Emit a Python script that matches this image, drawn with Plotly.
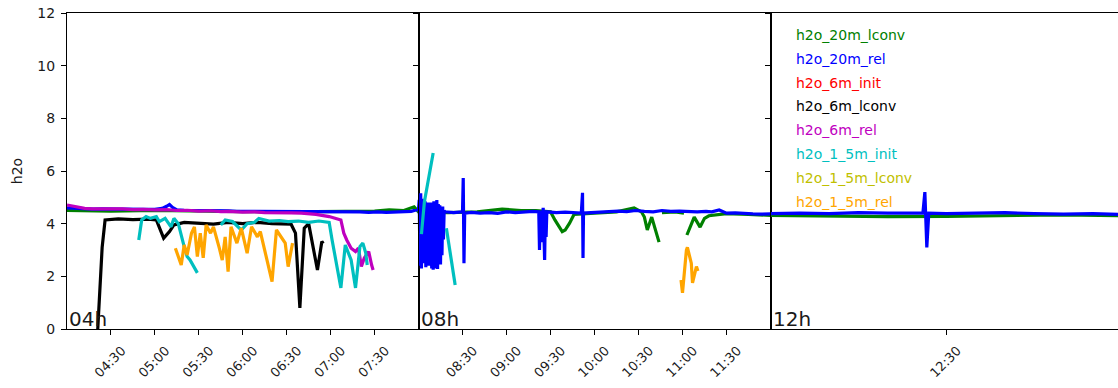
import pandas as pd
import plotly.graph_objects as go

DAY = "2020-01-01 "

# ---------------- data ----------------
g20_t = ["04:00", "04:30", "05:00", "05:30", "06:00", "06:30", "07:00", "07:30", "07:40", "07:50", "07:57",
         "08:00", "08:20", "08:40", "08:57", "09:10", "09:20", "09:30", "09:33", "09:38", "09:40", "09:43",
         "09:46", "10:00", "10:15", "10:27", "10:32", "10:34", "10:36", "10:39", "10:44", None,
         "10:46", "10:55", "11:01", None, "11:03", "11:08", "11:12", "11:15", "11:18", "11:30", "11:45",
         "12:00", "12:10", "12:20", "12:30", "12:40", "12:50", "13:00"]
g20_v = [4.5, 4.48, 4.5, 4.47, 4.46, 4.45, 4.45, 4.48, 4.52, 4.5, 4.64,
         4.45, 4.42, 4.45, 4.55, 4.5, 4.5, 4.45, 4.14, 3.7, 3.76, 4.02,
         4.35, 4.4, 4.45, 4.6, 4.45, 4.25, 3.76, 4.25, 3.3, None,
         4.42, 4.45, 4.4, None, 3.57, 4.25, 3.87, 4.2, 4.3, 4.38, 4.35,
         4.3, 4.28, 4.27, 4.28, 4.3, 4.33, 4.3]

b20_t = ["04:00", "04:06", "04:12", "04:18", "04:24", "04:30", "04:36", "04:42", "04:48", "04:54", "05:00",
         "05:05", "05:08", "05:10", "05:12", "05:15", "05:20", "05:26", "05:32", "05:38", "05:44", "05:50",
         "05:56", "06:02", "06:08", "06:14", "06:20", "06:26", "06:32", "06:38", "06:44", "06:50", "06:56",
         "07:02", "07:08", "07:14", "07:20", "07:26", "07:32", "07:38", "07:44", "07:50", "07:55",
         "08:00:00", "08:00:30", "08:01:00", "08:01:30", "08:02:00", "08:02:30", "08:03:00", "08:03:30",
         "08:04:00", "08:04:30", "08:05:00", "08:05:30", "08:06:00", "08:06:30", "08:07:00", "08:07:30",
         "08:08:00", "08:08:30", "08:09:00", "08:09:30", "08:10:00", "08:10:30", "08:11:00", "08:11:30",
         "08:12:00", "08:12:30", "08:13:00", "08:13:30", "08:14:00", "08:14:30", "08:15:00", "08:15:30",
         "08:16:00", "08:16:30", "08:17:00", "08:17:30", "08:18:00",
         "08:24", "08:30:00", "08:30:30", "08:31:00", "08:31:30", "08:36", "08:42", "08:48", "08:54",
         "09:00", "09:06", "09:12", "09:18",
         "09:22:00", "09:22:30", "09:23:00", "09:24:00", "09:25:00", "09:26:00", "09:26:30", "09:27:00",
         "09:27:30", "09:34", "09:40", "09:46", "09:51:00", "09:51:50", "09:52:10", "09:52:30", "09:58",
         "10:04", "10:10", "10:16", "10:22", "10:28", "10:34", "10:40", "10:46", "10:52", "10:58", "11:04",
         "11:10", "11:16", "11:20", "11:25", "11:30", "11:36", "11:42", "11:48", "11:54",
         "12:00", "12:05", "12:10", "12:15", "12:20", "12:25", "12:26:00", "12:26:20", "12:26:40",
         "12:27:00", "12:30", "12:35", "12:40", "12:45", "12:50", "12:55", "13:00"]
b20_v = [4.6, 4.58, 4.56, 4.55, 4.56, 4.55, 4.56, 4.55, 4.54, 4.54, 4.54,
         4.58, 4.66, 4.73, 4.62, 4.52, 4.51, 4.51, 4.5, 4.5, 4.48, 4.49,
         4.47, 4.47, 4.47, 4.45, 4.45, 4.45, 4.44, 4.44, 4.45, 4.45, 4.45,
         4.44, 4.46, 4.44, 4.45, 4.43, 4.45, 4.43, 4.45, 4.44, 4.47,
         4.55, 4.9, 2.4, 5.15, 2.3, 4.95, 2.5, 4.8,
         2.7, 4.85, 2.35, 4.7, 2.6, 4.8, 2.4, 4.75,
         3.0, 4.8, 2.3, 4.7, 2.25, 4.85, 2.5, 4.7,
         2.3, 4.9, 2.28, 4.75, 2.6, 4.7, 2.45, 4.6,
         2.8, 4.65, 3.4, 4.5, 4.45,
         4.42, 4.45, 5.73, 2.5, 4.4, 4.43, 4.4, 4.42, 4.39,
         4.45, 4.42, 4.44, 4.47,
         4.45, 3.0, 4.5, 3.3, 4.6, 2.62, 4.5, 3.5,
         4.45, 4.42, 4.44, 4.41, 4.4, 5.17, 2.7, 4.4, 4.42,
         4.44, 4.45, 4.48, 4.46, 4.5, 4.47, 4.45, 4.5, 4.47, 4.48, 4.46,
         4.45, 4.47, 4.45, 4.52, 4.4, 4.41, 4.38, 4.37, 4.36,
         4.38, 4.4, 4.38, 4.42, 4.4, 4.4, 4.4, 5.2, 3.1,
         4.4, 4.38, 4.4, 4.42, 4.38, 4.36, 4.38, 4.35]

r6_t = []
r6_v = []

k6_t = ["04:21", "04:24", "04:26", "04:35", "04:45", "04:55", "05:01", "05:03", "05:06", "05:10", "05:13",
        "05:20", "05:30", "05:40", "05:50", "06:00", "06:10", "06:20", "06:33", "06:36", "06:39", "06:42",
        "06:45", "06:48", "06:51", "06:54", "06:55"]
k6_v = [0.0, 3.1, 4.14, 4.18, 4.15, 4.17, 4.14, 3.88, 3.45, 3.7, 3.95,
        4.05, 4.02, 3.98, 4.05, 4.0, 4.05, 4.0, 3.98, 3.64, 0.8, 3.83,
        4.0, 3.07, 2.24, 3.32, 3.25]

m6_t = ["04:00", "04:04", "04:08", "04:12", "04:17", "04:24", "04:30", "04:38", "04:45", "04:52", "05:00",
        "05:08", "05:15", "05:22", "05:30", "05:38", "05:45", "05:50", "06:00", "06:08", "06:15", "06:25",
        "06:33", "06:40", "06:50", "06:59", "07:07", "07:09", "07:11", "07:14", "07:17", "07:19", "07:21",
        "07:23", "07:26", "07:28", "07:29"]
m6_v = [4.71, 4.66, 4.62, 4.58, 4.56, 4.57, 4.55, 4.56, 4.53, 4.54, 4.52,
        4.53, 4.5, 4.51, 4.48, 4.49, 4.46, 4.47, 4.44, 4.45, 4.42, 4.43,
        4.41, 4.4, 4.35, 4.27, 4.14, 3.64, 3.38, 3.07, 2.94, 3.07, 2.37,
        2.7, 2.94, 2.43, 2.24]

c15_t = ["04:49", "04:51", "04:54", "04:57", "05:01", "05:03", "05:07", "05:11", "05:13", "05:16", "05:20",
         "05:22", "05:24", "05:28", "05:29", None,
         "05:45", "05:48", "05:53", "05:59", "06:03", "06:08", "06:11",
         "06:18", "06:25", "06:31", "06:38", "06:45", "06:52", "06:59", "07:01", "07:03", "07:07", "07:10",
         "07:14", "07:17", "07:20", "07:22", "07:24", "07:25", None,
         "08:02", "08:04", "08:10", None, "08:19", "08:25"]
c15_v = [3.38, 4.14, 4.27, 4.2, 4.27, 4.08, 4.2, 3.88, 4.2, 4.0, 3.13,
         2.75, 2.62, 2.18, 2.13, None,
         3.95, 4.14, 4.08, 3.76, 4.0, 4.05, 4.2,
         4.1, 4.12, 4.08, 4.1, 4.05, 4.1, 4.05, 3.38, 2.75, 1.56, 3.19,
         2.62, 1.56, 3.13, 3.26, 2.88, 2.43, None,
         3.6, 4.82, 6.68, None, 3.83, 1.67]

y15_t = []
y15_v = []

o15_t = ["05:14", "05:18", "05:20", "05:22", "05:25", "05:27", "05:29", "05:31", "05:33", "05:35", "05:38",
         "05:40", "05:44", "05:46", "05:48", "05:50", "05:52", "05:56", "05:59", "06:03", "06:06", "06:10",
         "06:12", "06:16", "06:20", "06:23", "06:26", "06:29", "06:31", "06:34", None,
         "10:59:00", "11:00:00", "11:02:40", "11:03:20", "11:06:00", "11:06:50", "11:09:30", "11:10:30"]
o15_v = [3.07, 2.43, 3.19, 2.81, 3.64, 3.88, 2.75, 3.64, 2.7, 3.95, 3.64,
         3.88, 3.07, 2.62, 3.5, 2.18, 3.88, 3.26, 3.83, 2.88, 3.88, 3.5,
         3.7, 2.75, 1.8, 3.76, 3.5, 3.26, 2.37, 3.26, None,
         1.86, 1.37, 3.0, 3.1, 2.5, 1.75, 2.37, 2.2]

series = [
    ("h2o_20m_lconv", g20_t, g20_v, "#008000"),
    ("h2o_20m_rel", b20_t, b20_v, "#0000ff"),
    ("h2o_6m_init", r6_t, r6_v, "#ff0000"),
    ("h2o_6m_lconv", k6_t, k6_v, "#000000"),
    ("h2o_6m_rel", m6_t, m6_v, "#bf00bf"),
    ("h2o_1_5m_init", c15_t, c15_v, "#00bfbf"),
    ("h2o_1_5m_lconv", y15_t, y15_v, "#bfbf00"),
    ("h2o_1_5m_rel", o15_t, o15_v, "#ffa500"),
]

panel_ranges = [("04:00", "08:00"), ("08:00", "12:00"), ("12:00", "12:59:17")]
panel_labels = ["04h", "08h", "12h"]
panel_ticks = [["04:30", "05:00", "05:30", "06:00", "06:30", "07:00", "07:30"],
               ["08:30", "09:00", "09:30", "10:00", "10:30", "11:00", "11:30"],
               ["12:30"]]
y_ticks = [0, 2, 4, 6, 8, 10, 12]


def to_dt(lst):
    return [None if s is None else pd.Timestamp(DAY + s) for s in lst]


# ---------------- figure ----------------
W, H = 1118, 388
ML, MR, MT, MB = 67, 0, 13, 59
PW = W - ML - MR
b1 = (418.5 - ML) / PW
b2 = (770.5 - ML) / PW
domains = [[0, b1], [b1, b2], [b2, 1]]

fig = go.Figure()
axis_ids = ["", "2", "3"]
for i, aid in enumerate(axis_ids):
    for name, t, v, col in series:
        fig.add_trace(go.Scatter(
            x=to_dt(t), y=v, mode="lines", name=name, showlegend=False,
            line=dict(color=col, width=3.2), connectgaps=False,
            xaxis="x" + aid, yaxis="y" + aid, hoverinfo="skip"))

font = dict(family="DejaVu Sans", size=14, color="#1a1a1a")
layout = dict(
    width=W, height=H, margin=dict(l=ML, r=MR, t=MT, b=MB),
    paper_bgcolor="white", plot_bgcolor="white", font=font, showlegend=False,
)
for i, aid in enumerate(axis_ids):
    r0, r1 = panel_ranges[i]
    layout["xaxis" + aid] = dict(
        domain=domains[i], anchor="y" + aid,
        range=[DAY + r0, DAY + r1], type="date",
        tickmode="array", tickvals=[DAY + s for s in panel_ticks[i]], ticktext=panel_ticks[i],
        tickangle=-45, ticks="outside", ticklen=5, tickcolor="black",
        ticklabelshift=11, ticklabelstandoff=3,
        showline=True, linecolor="black", linewidth=1, mirror=True,
        showgrid=False, zeroline=False, tickfont=dict(size=13),
    )
    ya = dict(
        domain=[0, 1], anchor="x" + aid, range=[0, 12],
        tickmode="array", tickvals=y_ticks, ticks="outside", ticklen=5, tickcolor="black",
        showline=True, linecolor="black", linewidth=1, mirror=(i < 2),
        showgrid=False, zeroline=False, showticklabels=(i == 0),
    )
    if i == 0:
        ya["title"] = dict(text="h2o", standoff=11, font=dict(size=14))
        ya["ticklabelstandoff"] = 3
    layout["yaxis" + aid] = ya

annotations = []
for i, aid in enumerate(axis_ids):
    annotations.append(dict(
        text=panel_labels[i], xref="x%s domain" % aid, yref="y%s domain" % aid,
        x=0, y=0, xanchor="left", yanchor="bottom", showarrow=False,
        font=dict(size=20, color="#1a1a1a"), borderpad=0, xshift=1, yshift=-3))

# legend as coloured texts in the third panel
for j, (name, t, v, col) in enumerate(series):
    ypx = 35 + j * 23.8
    annotations.append(dict(
        text=name, xref="paper", yref="paper",
        x=(794 - ML) / PW, y=(H - MB - ypx) / (H - MT - MB),
        xanchor="left", yanchor="middle", showarrow=False,
        font=dict(size=14, color=col)))
layout["annotations"] = annotations

fig.update_layout(**layout)
fig.write_html("out.html")
